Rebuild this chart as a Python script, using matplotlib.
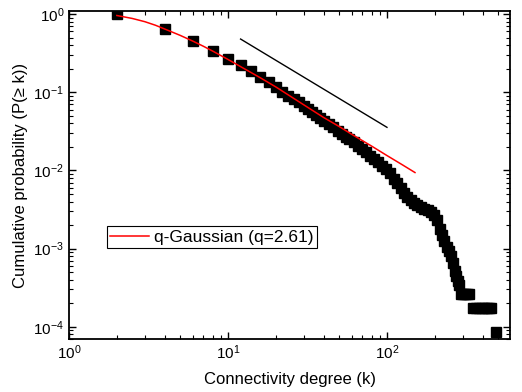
import matplotlib
matplotlib.use("Agg")
import matplotlib.pyplot as plt
import numpy as np
from matplotlib.ticker import LogLocator, NullFormatter

plt.rcParams['font.family'] = ['Liberation Sans', 'DejaVu Sans']
plt.rcParams['mathtext.fontset'] = 'custom'
plt.rcParams['mathtext.rm'] = 'Liberation Sans'
plt.rcParams['mathtext.it'] = 'Liberation Sans:italic'

# --- data ---
degree = [2, 4, 6, 8, 10, 12, 14, 16, 18, 20,
          22, 24, 26, 28, 30, 32, 34, 36, 38, 40,
          43, 46, 49, 52, 55, 58, 62, 66, 70, 74,
          78, 83, 88, 93, 98, 104, 110, 116, 122, 128,
          134, 141, 148, 155, 163, 171, 180, 189, 198, 206,
          214, 222, 230, 238, 246, 254, 260, 266, 272, 278,
          284, 292, 300, 310, 320, 328, 350, 365, 380, 395,
          410, 425, 440, 452, 482]
cum_prob = [1.0, 0.64, 0.447, 0.336, 0.266, 0.224, 0.187, 0.158, 0.134, 0.1155,
            0.100, 0.090, 0.082, 0.075, 0.067, 0.061, 0.056, 0.051, 0.047, 0.0435,
            0.039, 0.0355, 0.032, 0.029, 0.027, 0.0252, 0.0228, 0.0205, 0.0187, 0.0170,
            0.0154, 0.0140, 0.0127, 0.0115, 0.0104, 0.0092, 0.0078, 0.0070, 0.0060, 0.0052,
            0.0046, 0.0042, 0.0038, 0.0036, 0.0034, 0.0032, 0.0031, 0.0029, 0.0027, 0.0023,
            0.0018, 0.0015, 0.00125, 0.00105, 0.00092, 0.00080, 0.00065, 0.00052, 0.00045, 0.00038,
            0.00034, 2.6e-4, 2.6e-4, 2.6e-4, 2.6e-4, 2.6e-4, 1.73e-4, 1.73e-4, 1.73e-4, 1.73e-4,
            1.73e-4, 1.73e-4, 1.73e-4, 1.73e-4, 8.65e-5]

# q-Gaussian fit curve
fit_k = [2, 2.5, 3, 3.5, 4, 5, 6, 7, 8, 10, 12, 16, 20, 30, 40, 50, 60, 80, 100, 125, 150]
fit_p = [0.96, 0.88, 0.80, 0.72, 0.645, 0.535, 0.452, 0.388, 0.337, 0.263,
         0.213, 0.153, 0.117, 0.069, 0.0475, 0.0365, 0.029, 0.0205, 0.0155, 0.0118, 0.0094]

# reference power-law guide line
guide_k = [12, 100]
guide_p = [0.48, 0.0356]

fig = plt.figure(figsize=(5.22, 3.92), dpi=100)
ax = fig.add_axes([0.1322, 0.1352, 0.977 - 0.1322, 0.972 - 0.1352])

ax.plot(degree, cum_prob, 's', color='black', markersize=6.5, zorder=2)
ax.plot(fit_k, fit_p, '-', color='red', lw=1.1, label='q-Gaussian (q=2.61)', zorder=3)
ax.plot(guide_k, guide_p, '-', color='black', lw=1.0, zorder=3)

ax.set_xscale('log')
ax.set_yscale('log')
ax.set_xlim(1, 594)
ax.set_ylim(6.97e-5, 1.097)

for a in (ax.xaxis, ax.yaxis):
    a.set_major_locator(LogLocator(base=10, numticks=10))
    a.set_minor_locator(LogLocator(base=10, subs=np.arange(2, 10), numticks=10))
    a.set_minor_formatter(NullFormatter())

ax.tick_params(which='both', direction='in', top=True, right=True, labelsize=11)
ax.tick_params(which='major', length=5, width=1.0)
ax.tick_params(which='minor', length=3, width=0.8)
for s in ax.spines.values():
    s.set_linewidth(1.3)

ax.set_xlabel('Connectivity degree (k)', fontsize=12, labelpad=7)
ax.set_ylabel('Cumulative probability (P(\u2265 k))', fontsize=12, labelpad=4)

leg = ax.legend(loc='lower left', bbox_to_anchor=(0.086, 0.277), borderaxespad=0,
                fontsize=12.5, fancybox=False, shadow=False, framealpha=1,
                edgecolor='black', handlelength=2.2, handletextpad=0.3,
                borderpad=0.2)
leg.get_frame().set_linewidth(0.8)

fig.savefig('out.png', dpi=100)
